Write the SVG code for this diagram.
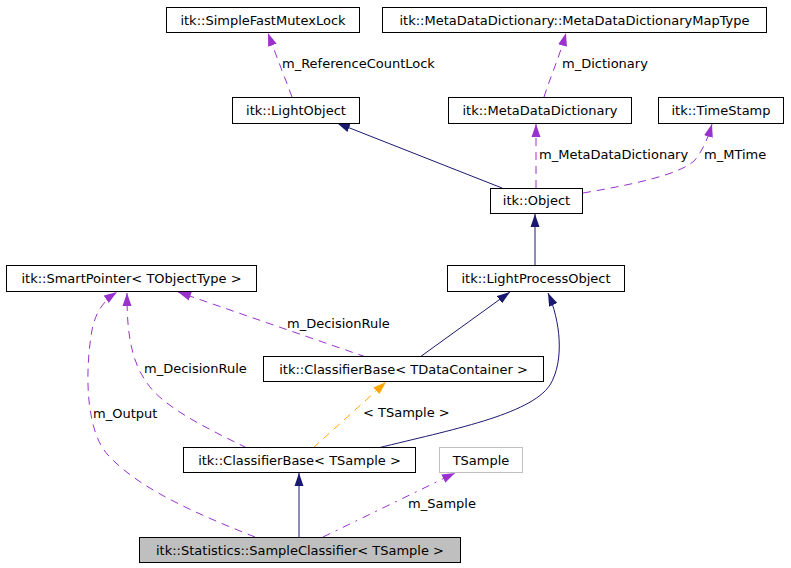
<svg xmlns="http://www.w3.org/2000/svg" width="791" height="568" viewBox="0 0 791 568">
<style>
.n rect{fill:#fff;stroke:#000;stroke-width:1}
text{font-family:"DejaVu Sans",sans-serif;font-size:13px;fill:#000}
.n text{text-anchor:middle}
.e{fill:none;stroke-width:1}
.nv{stroke:#191970}
.pu{stroke:#9a32cd;stroke-dasharray:8,6}
.or{stroke:#ffa500;stroke-dasharray:8,6}
</style>
<defs>
<marker id="aN" viewBox="0 0 13 10" refX="13" refY="5" markerWidth="13" markerHeight="10" orient="auto" markerUnits="userSpaceOnUse"><path d="M0,0.5L13,5L0,9.5z" fill="#191970"/></marker>
<marker id="aP" viewBox="0 0 13 10" refX="13" refY="5" markerWidth="13" markerHeight="10" orient="auto" markerUnits="userSpaceOnUse"><path d="M0,0.5L13,5L0,9.5z" fill="#9a32cd"/></marker>
<marker id="aO" viewBox="0 0 13 10" refX="13" refY="5" markerWidth="13" markerHeight="10" orient="auto" markerUnits="userSpaceOnUse"><path d="M0,0.5L13,5L0,9.5z" fill="#ffa500"/></marker>
</defs>
<rect width="791" height="568" fill="#fff"/>
<g id="connectors">
<path class="e pu" d="M292,97 C285,78 277,58 268,33" marker-end="url(#aP)"/>
<path class="e pu" d="M544,97 C550,78 560,55 566,33" marker-end="url(#aP)"/>
<path class="e nv" d="M502,188 L337,123" marker-end="url(#aN)"/>
<path class="e pu" d="M536,188 L536,124" marker-end="url(#aP)"/>
<path class="e pu" d="M583,193 C630,185 680,175 695,160 C703,150 708,138 712,124" marker-end="url(#aP)"/>
<path class="e nv" d="M535,265 L535,214" marker-end="url(#aN)"/>
<path class="e pu" d="M366,357 L178,292" marker-end="url(#aP)"/>
<path class="e nv" d="M420,357 L510,292" marker-end="url(#aN)"/>
<path class="e pu" d="M247,448 C200,425 160,405 145,380 C128,355 127,320 127,293" marker-end="url(#aP)"/>
<path class="e pu" d="M255,537 C200,515 140,490 108,455 C85,430 85,370 92,330 C96,310 105,300 117,292" marker-end="url(#aP)"/>
<path class="e or" d="M313,448 L386,382" marker-end="url(#aO)"/>
<path class="e nv" d="M378,448 C450,430 530,415 550,385 C565,360 560,320 548,293" marker-end="url(#aN)"/>
<path class="e nv" d="M299,537 L299,473" marker-end="url(#aN)"/>
<path class="e pu" d="M323,537 L455,473" marker-end="url(#aP)" style="stroke-dasharray:8,6,2,6"/>
<text x="282" y="68">m_ReferenceCountLock</text>
<text x="562" y="68">m_Dictionary</text>
<text x="539" y="159">m_MetaDataDictionary</text>
<text x="704" y="159">m_MTime</text>
<text x="287" y="328">m_DecisionRule</text>
<text x="144" y="373">m_DecisionRule</text>
<text x="93" y="418">m_Output</text>
<text x="363" y="417">&lt; TSample &gt;</text>
<text x="408" y="508">m_Sample</text>
</g>
<g id="SimpleFastMutexLock" class="n"><rect x="166.5" y="7.5" width="193" height="25"/><text x="263" y="25">itk::SimpleFastMutexLock</text></g>
<g id="MetaDataDictionaryMapType" class="n"><rect x="382.5" y="7.5" width="384" height="25"/><text x="574.5" y="25">itk::MetaDataDictionary::MetaDataDictionaryMapType</text></g>
<g id="LightObject" class="n"><rect x="232.5" y="97.5" width="127" height="26"/><text x="296" y="115">itk::LightObject</text></g>
<g id="MetaDataDictionary" class="n"><rect x="448.5" y="97.5" width="183" height="26"/><text x="540" y="115">itk::MetaDataDictionary</text></g>
<g id="TimeStamp" class="n"><rect x="658.5" y="97.5" width="125" height="26"/><text x="721" y="115">itk::TimeStamp</text></g>
<g id="Object" class="n"><rect x="490.5" y="188.5" width="92" height="25"/><text x="536.5" y="205">itk::Object</text></g>
<g id="SmartPointer" class="n"><rect x="6.5" y="265.5" width="250" height="26"/><text x="131.5" y="283">itk::SmartPointer&lt; TObjectType &gt;</text></g>
<g id="LightProcessObject" class="n"><rect x="447.5" y="265.5" width="177" height="26"/><text x="536" y="283">itk::LightProcessObject</text></g>
<g id="ClassifierBaseTDataContainer" class="n"><rect x="263.5" y="356.5" width="280" height="25"/><text x="403.5" y="374">itk::ClassifierBase&lt; TDataContainer &gt;</text></g>
<g id="ClassifierBaseTSample" class="n"><rect x="183.5" y="447.5" width="232" height="25"/><text x="299.5" y="465">itk::ClassifierBase&lt; TSample &gt;</text></g>
<g id="TSample" class="n"><rect x="439.5" y="447.5" width="83" height="25" style="stroke:#bfbfbf"/><text x="481" y="465">TSample</text></g>
<g id="SampleClassifier" class="n"><rect x="139.5" y="537.5" width="321" height="25" style="fill:#bfbfbf"/><text x="300" y="555">itk::Statistics::SampleClassifier&lt; TSample &gt;</text></g>
</svg>
